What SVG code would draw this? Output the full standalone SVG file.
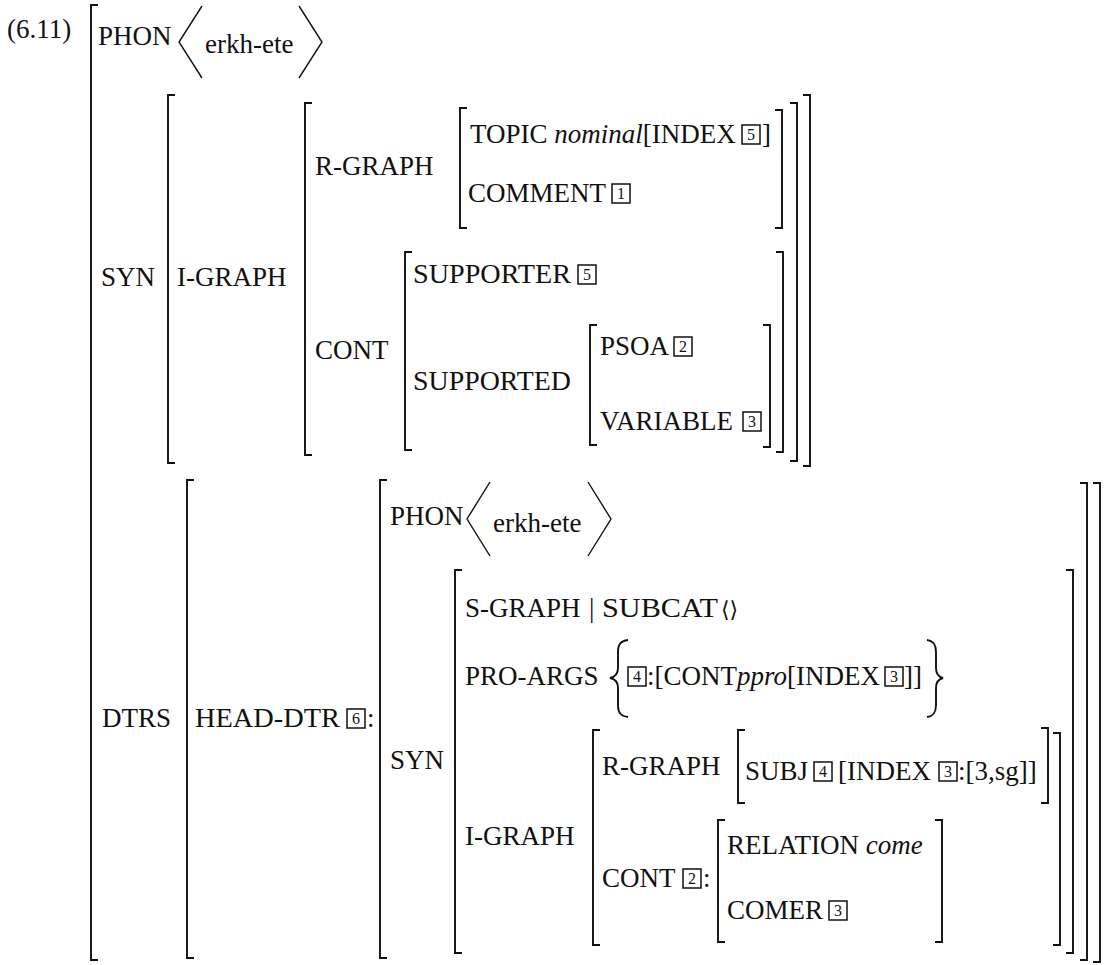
<svg xmlns="http://www.w3.org/2000/svg" width="1104" height="965" viewBox="0 0 1104 965">
<style>
.t{font-family:"Liberation Serif","Times New Roman",serif;font-size:27px;fill:#111}
.i{font-style:italic}
.br{fill:none;stroke:#111;stroke-width:1.9;stroke-linecap:butt}
.ang{fill:none;stroke:#111;stroke-width:1.4;stroke-linejoin:miter}
.brace{fill:none;stroke:#111;stroke-width:1.9}
.box{fill:none;stroke:#111;stroke-width:1.5}
.n{font-family:"Liberation Serif","Times New Roman",serif;font-size:16px;fill:#111;text-anchor:middle}
.sym{font-family:"DejaVu Serif","DejaVu Sans",serif;font-size:22px;fill:#111}
</style>
<rect width="1104" height="965" fill="#fff"/>

<g id="example-number"><text class="t" x="7" y="38">(6.11)</text></g>

<g id="brackets">
  <!-- left brackets -->
  <path class="br" d="M98,5H91V960H98"/>
  <path class="br" d="M175,95H168V463H175"/>
  <path class="br" d="M312,103H305V455H312"/>
  <path class="br" d="M467,108H460V228H467"/>
  <path class="br" d="M412,252H405V450H412"/>
  <path class="br" d="M597,325H590V445H597"/>
  <path class="br" d="M194,480H187V958H194"/>
  <path class="br" d="M387,480H380V958H387"/>
  <path class="br" d="M462,570H455V953H462"/>
  <path class="br" d="M600,730H593V945H600"/>
  <path class="br" d="M745,730H738V803H745"/>
  <path class="br" d="M725,820H718V942H725"/>
  <!-- right brackets -->
  <path class="br" d="M803,95H810V466H803"/>
  <path class="br" d="M790,103H797V461H790"/>
  <path class="br" d="M775,110H782V228H775"/>
  <path class="br" d="M776,252H783V452H776"/>
  <path class="br" d="M763,325H770V447H763"/>
  <path class="br" d="M1093,483H1100V962H1093"/>
  <path class="br" d="M1080,483H1087V960H1080"/>
  <path class="br" d="M1066,570H1073V953H1066"/>
  <path class="br" d="M1053,733H1060V945H1053"/>
  <path class="br" d="M1041,728H1048V803H1041"/>
  <path class="br" d="M935,820H942V942H935"/>
</g>

<g id="top-phon">
  <text class="t" x="98" y="45">PHON</text>
  <path class="ang" d="M202,6L179,42L202,78"/>
  <text class="t" x="205" y="53">erkh-ete</text>
  <path class="ang" d="M299,6L322,42L299,78"/>
</g>

<g id="top-syn">
  <text class="t" x="101" y="286">SYN</text>
  <text class="t" x="177" y="286">I-GRAPH</text>
  <text class="t" x="315" y="175">R-GRAPH</text>
  <text class="t" x="470" y="143">TOPIC <tspan class="i">nominal</tspan>[INDEX</text>
  <rect class="box" x="742" y="125" width="18" height="19"/><text class="n" x="751" y="140">5</text>
  <text class="t" x="762" y="143">]</text>
  <text class="t" x="468" y="202">COMMENT</text>
  <rect class="box" x="612" y="184" width="18" height="19"/><text class="n" x="621" y="199">1</text>
  <text class="t" x="315" y="359">CONT</text>
  <text class="t" x="413" y="283" textLength="158" lengthAdjust="spacingAndGlyphs">SUPPORTER</text>
  <rect class="box" x="578" y="265" width="18" height="19"/><text class="n" x="587" y="280">5</text>
  <text class="t" x="413" y="390" textLength="158" lengthAdjust="spacingAndGlyphs">SUPPORTED</text>
  <text class="t" x="600" y="355">PSOA</text>
  <rect class="box" x="674" y="337" width="18" height="19"/><text class="n" x="683" y="352">2</text>
  <text class="t" x="600" y="430">VARIABLE</text>
  <rect class="box" x="743" y="412" width="18" height="19"/><text class="n" x="752" y="427">3</text>
</g>

<g id="dtrs">
  <text class="t" x="102" y="727">DTRS</text>
  <text class="t" x="195" y="727" textLength="145" lengthAdjust="spacingAndGlyphs">HEAD-DTR</text>
  <rect class="box" x="347" y="709" width="18" height="19"/><text class="n" x="356" y="724">6</text>
  <text class="t" x="367" y="727">:</text>
</g>

<g id="head-phon">
  <text class="t" x="390" y="525">PHON</text>
  <path class="ang" d="M490,482L467,519L490,556"/>
  <text class="t" x="493" y="532">erkh-ete</text>
  <path class="ang" d="M588,482L611,519L588,556"/>
</g>

<g id="head-syn">
  <text class="t" x="390" y="769">SYN</text>
  <text class="t" x="465" y="617">S-GRAPH</text>
  <text class="t" x="589" y="617">|</text>
  <text class="t" x="602" y="617" textLength="116" lengthAdjust="spacingAndGlyphs">SUBCAT</text>
  <text class="sym" x="721" y="617">⟨⟩</text>

  <text class="t" x="465" y="685">PRO-ARGS</text>
  <path class="brace" d="M628,640C620,641 618,645 618,652L618,668C618,674 615,677 610,678C615,679 618,682 618,688L618,705C618,712 620,716 628,717"/>
  <rect class="box" x="628" y="667" width="18" height="19"/><text class="n" x="637" y="682">4</text>
  <text class="t" x="647" y="685">:[CONT<tspan class="i">ppro</tspan>[INDEX</text>
  <rect class="box" x="885" y="667" width="18" height="19"/><text class="n" x="894" y="682">3</text>
  <text class="t" x="904" y="685">]]</text>
  <path class="brace" d="M927,640C934,641 936,645 936,652L936,668C936,674 939,677 943,678C939,679 936,682 936,688L936,705C936,712 934,716 927,717"/>

  <text class="t" x="465" y="845">I-GRAPH</text>
  <text class="t" x="602" y="775">R-GRAPH</text>
  <text class="t" x="745" y="780">SUBJ</text>
  <rect class="box" x="814" y="762" width="18" height="19"/><text class="n" x="823" y="777">4</text>
  <text class="t" x="838" y="780">[INDEX</text>
  <rect class="box" x="939" y="762" width="18" height="19"/><text class="n" x="948" y="777">3</text>
  <text class="t" x="958" y="780">:[3,sg]]</text>

  <text class="t" x="602" y="887">CONT</text>
  <rect class="box" x="683" y="869" width="18" height="19"/><text class="n" x="692" y="884">2</text>
  <text class="t" x="703" y="887">:</text>
  <text class="t" x="727" y="854">RELATION <tspan class="i">come</tspan></text>
  <text class="t" x="727" y="919">COMER</text>
  <rect class="box" x="829" y="901" width="18" height="19"/><text class="n" x="838" y="916">3</text>
</g>
</svg>
